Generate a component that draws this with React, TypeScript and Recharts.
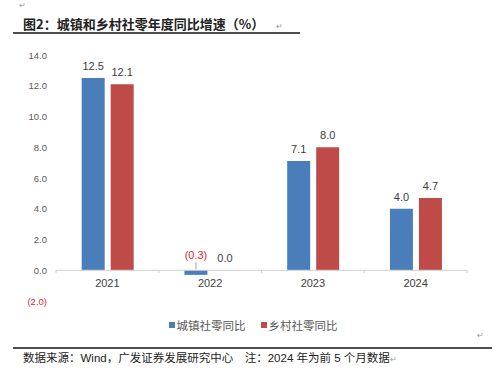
import React from "react";
import {
  BarChart,
  Bar,
  XAxis,
  YAxis,
  ReferenceLine,
  LabelList,
} from "recharts";

// 年度
const years = ["2021", "2022", "2023", "2024"];
// 城镇社零同比 (%)
const urbanValues = [12.5, -0.3, 7.1, 4.0];
// 乡村社零同比 (%)
const ruralValues = [12.1, 0.0, 8.0, 4.7];
const yTicks = [-2, 0, 2, 4, 6, 8, 10, 12, 14];
const seriesNames = ["城镇社零同比", "乡村社零同比"];

const BLUE = "#4A7EBB";
const RED = "#BE4B48";
const NEG_RED = "#E0262B";
const LATIN = "'Liberation Sans', Arial, sans-serif";
const CJK = "'Noto Sans CJK SC', sans-serif";

const CHART_W = 499;
const PLOT_LEFT = 56;
const PLOT_RIGHT = 32;
const BAND = (CHART_W - PLOT_LEFT - PLOT_RIGHT) / years.length;

const data = years.map((year, i) => ({
  year,
  urban: urbanValues[i],
  rural: ruralValues[i],
}));

const fmt = (v: number) =>
  v < 0 ? `(${Math.abs(v).toFixed(1)})` : v.toFixed(1);

// zero-height bars would otherwise be dropped together with their label
const keepZero = (v: any) => (Number(v) === 0 ? 0.1 : 0);

const YTick = (props: any) => {
  const { x, y, payload } = props;
  const v = payload.value as number;
  return (
    <text
      x={x}
      y={y}
      dy={3.5}
      textAnchor="end"
      fontSize={9.5}
      fontFamily={LATIN}
      fill={v < 0 ? NEG_RED : "#595959"}
    >
      {fmt(v)}
    </text>
  );
};

// category labels sit just under the zero line, not at the plot bottom
const XTick = (props: any) => {
  const { x, y, payload, index } = props;
  const zeroY = y - 31;
  return (
    <g>
      {index === 0 && (
        <line
          x1={x - BAND / 2}
          x2={x - BAND / 2}
          y1={zeroY}
          y2={zeroY + 3}
          stroke="#d0d0d0"
        />
      )}
      <line
        x1={x + BAND / 2}
        x2={x + BAND / 2}
        y1={zeroY}
        y2={zeroY + 3}
        stroke="#d0d0d0"
      />
      <text
        x={x}
        y={zeroY + 17}
        textAnchor="middle"
        fontSize={11}
        fontFamily={LATIN}
        fill="#404040"
      >
        {payload.value}
      </text>
    </g>
  );
};

const BarLabel = (props: any) => {
  const { x, y, width, height, value } = props;
  const cx = x + width / 2;
  const top = Math.min(y, y + height);
  if (value < 0) {
    return (
      <g>
        <line
          x1={cx}
          x2={cx}
          y1={top - 1}
          y2={top - 8}
          stroke="#8c8c8c"
          strokeWidth={0.8}
        />
        <text
          x={cx}
          y={top - 11}
          textAnchor="middle"
          fontSize={11}
          fontFamily={LATIN}
          fill={NEG_RED}
        >
          {fmt(value)}
        </text>
      </g>
    );
  }
  return (
    <text
      x={cx}
      y={top - 8}
      textAnchor="middle"
      fontSize={11}
      fontFamily={LATIN}
      fill="#404040"
    >
      {fmt(value)}
    </text>
  );
};

export default function App() {
  return (
    <div
      style={{
        position: "absolute",
        left: 0,
        top: 0,
        width: 499,
        height: 375,
        background: "#fff",
        overflow: "hidden",
      }}
    >
      <div
        style={{
          position: "absolute",
          left: 19,
          top: 1,
          fontSize: 8,
          lineHeight: "10px",
          color: "#999",
        }}
      >
        ↵
      </div>
      <div
        style={{
          position: "absolute",
          left: 23,
          top: 15,
          fontSize: 13,
          fontWeight: 700,
          fontFamily: CJK,
          color: "#222",
          whiteSpace: "nowrap",
          lineHeight: "18px",
        }}
      >
        图2：城镇和乡村社零年度同比增速（%）
        <span style={{ fontSize: 8, color: "#999", marginLeft: 12, fontWeight: 400 }}>↵</span>
      </div>
      <div
        style={{
          position: "absolute",
          left: 13,
          top: 32,
          width: 287,
          height: 2,
          background: "#4d4d4d",
        }}
      />

      <div style={{ position: "absolute", left: 0, top: 0 }}>
        <BarChart
          width={CHART_W}
          height={340}
          data={data}
          margin={{ top: 55, right: PLOT_RIGHT, left: 0, bottom: 0 }}
          barCategoryGap="25%"
          barGap={6}
        >
          <XAxis
            dataKey="year"
            axisLine={false}
            tickLine={false}
            tickSize={0}
            tickMargin={0}
            height={39}
            interval={0}
            tick={<XTick />}
          />
          <YAxis
            width={PLOT_LEFT}
            domain={[-2, 14]}
            ticks={yTicks}
            axisLine={false}
            tickLine={false}
            tickSize={0}
            tickMargin={9}
            interval={0}
            tick={<YTick />}
          />
          <ReferenceLine y={0} stroke="#d0d0d0" strokeWidth={1} />
          <Bar
            dataKey="urban"
            name={seriesNames[0]}
            fill={BLUE}
            minPointSize={keepZero}
            isAnimationActive={false}
          >
            <LabelList dataKey="urban" content={<BarLabel />} />
          </Bar>
          <Bar
            dataKey="rural"
            name={seriesNames[1]}
            fill={RED}
            minPointSize={keepZero}
            isAnimationActive={false}
          >
            <LabelList dataKey="rural" content={<BarLabel />} />
          </Bar>
        </BarChart>
      </div>

      <div
        style={{
          position: "absolute",
          left: 0,
          top: 316,
          width: 506,
          display: "flex",
          justifyContent: "center",
          gap: 15,
          fontFamily: CJK,
          fontSize: 11.5,
          color: "#595959",
          lineHeight: "18px",
        }}
      >
        {seriesNames.map((n, i) => (
          <div key={n} style={{ display: "flex", alignItems: "center" }}>
            <span
              style={{
                display: "inline-block",
                width: 6,
                height: 6,
                background: i === 0 ? BLUE : RED,
                marginRight: 2,
              }}
            />
            {n}
          </div>
        ))}
      </div>

      <div
        style={{
          position: "absolute",
          left: 477,
          top: 331,
          fontSize: 8,
          color: "#999",
        }}
      >
        ↵
      </div>
      <div
        style={{
          position: "absolute",
          left: 13,
          top: 347,
          width: 479,
          height: 2,
          background: "#4d4d4d",
        }}
      />
      <div
        style={{
          position: "absolute",
          left: 23,
          top: 348,
          fontSize: 11.5,
          fontFamily: CJK,
          color: "#222",
          whiteSpace: "nowrap",
          lineHeight: "18px",
        }}
      >
        数据来源：<span style={{ fontFamily: LATIN }}>Wind</span>，广发证券发展研究中心　注：
        <span style={{ fontFamily: LATIN }}>2024 </span>年为前
        <span style={{ fontFamily: LATIN }}> 5 </span>个月数据
        <span style={{ fontSize: 8, color: "#999" }}>↵</span>
      </div>
    </div>
  );
}
